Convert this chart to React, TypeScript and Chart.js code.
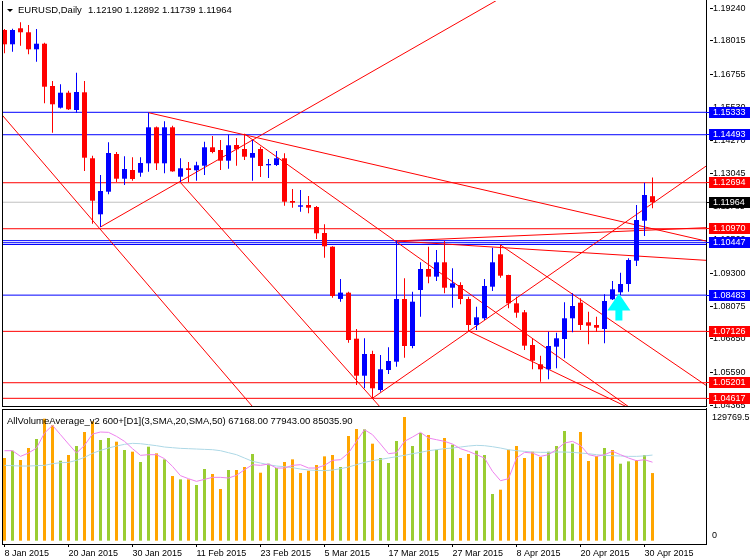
import { useEffect, useRef } from "react";
import { Chart, registerables } from "chart.js";

Chart.register(...registerables);

const FONT = "'Liberation Sans', Arial, sans-serif";

// ---------- price data (daily EURUSD, 8 Jan 2015 .. 1 May 2015) ----------
const opens = [
  1.18417, 1.17881, 1.18481, 1.18331, 1.17693, 1.17903, 1.16318, 1.15505, 1.16067, 1.15419,
  1.16082, 1.13610, 1.11511, 1.12358, 1.13771, 1.12845, 1.13171, 1.13070, 1.13422, 1.14771,
  1.13422, 1.14771, 1.12920, 1.13235, 1.13160, 1.13332, 1.14022, 1.13921, 1.13520, 1.14108,
  1.13958, 1.13632, 1.13958, 1.13347, 1.13358, 1.13610, 1.12009, 1.11796, 1.11860, 1.11785,
  1.10811, 1.10297, 1.08340, 1.08574, 1.06851, 1.05464, 1.06277, 1.04929, 1.05678, 1.05989,
  1.08338, 1.06577, 1.08675, 1.09462, 1.09175, 1.09713, 1.08761, 1.08862, 1.08338, 1.07364,
  1.07615, 1.08799, 1.10013, 1.09237, 1.08177, 1.07840, 1.06615, 1.05891, 1.05704, 1.06551,
  1.06840, 1.07615, 1.08200, 1.07465, 1.07364, 1.07214, 1.08327, 1.08589, 1.08900, 1.09773,
  1.11272, 1.12190,
];
const highs = [
  1.18454, 1.18467, 1.18705, 1.18604, 1.18454, 1.17941, 1.16506, 1.16382, 1.16142, 1.16817,
  1.16506, 1.13707, 1.12984, 1.14209, 1.13846, 1.13685, 1.13647, 1.13647, 1.15318, 1.14800,
  1.14996, 1.14831, 1.13610, 1.13471, 1.13482, 1.14231, 1.14445, 1.14295, 1.14494, 1.14370,
  1.14520, 1.14295, 1.14040, 1.13583, 1.13883, 1.13797, 1.12459, 1.12422, 1.12197, 1.11823,
  1.11137, 1.10310, 1.09090, 1.08612, 1.07214, 1.06866, 1.06401, 1.06240, 1.06528, 1.10511,
  1.09113, 1.08612, 1.09713, 1.10297, 1.10174, 1.10511, 1.09488, 1.08964, 1.08424, 1.08049,
  1.09087, 1.10260, 1.10361, 1.09250, 1.08424, 1.07926, 1.06866, 1.06214, 1.07113, 1.07076,
  1.08214, 1.08551, 1.08364, 1.07862, 1.07675, 1.08514, 1.09012, 1.09324, 1.09863, 1.11860,
  1.12695, 1.12892,
];
const lows = [
  1.17543, 1.17603, 1.17829, 1.17506, 1.17229, 1.15670, 1.14569, 1.15480, 1.15419, 1.15318,
  1.13134, 1.11159, 1.11036, 1.12261, 1.12722, 1.12609, 1.12771, 1.12920, 1.13107, 1.13171,
  1.13047, 1.13107, 1.12722, 1.12722, 1.12771, 1.12984, 1.13797, 1.13171, 1.13220, 1.13332,
  1.13546, 1.12771, 1.12908, 1.12872, 1.13321, 1.11834, 1.11759, 1.11609, 1.11549, 1.10586,
  1.09885, 1.08387, 1.08234, 1.06701, 1.05116, 1.04992, 1.04620, 1.04865, 1.05528, 1.05802,
  1.06139, 1.06491, 1.07675, 1.08926, 1.09012, 1.08551, 1.08012, 1.08139, 1.07139, 1.07177,
  1.07551, 1.08638, 1.09136, 1.07990, 1.07637, 1.06427, 1.05704, 1.05240, 1.05330, 1.05741,
  1.06117, 1.07090, 1.07177, 1.06641, 1.07113, 1.06679, 1.08300, 1.08490, 1.08612, 1.09574,
  1.10698, 1.11739,
];
const closes = [
  1.17881, 1.18417, 1.18331, 1.17693, 1.17903, 1.16292, 1.15633, 1.16067, 1.15445, 1.16094,
  1.13632, 1.12021, 1.12384, 1.13808, 1.12845, 1.13209, 1.12834, 1.13433, 1.14771, 1.13422,
  1.14771, 1.13120, 1.13235, 1.13171, 1.13347, 1.14022, 1.13846, 1.13520, 1.14097, 1.13947,
  1.13669, 1.13808, 1.13321, 1.13396, 1.13610, 1.11983, 1.11946, 1.11848, 1.11759, 1.10800,
  1.10313, 1.08451, 1.08577, 1.06802, 1.05464, 1.06277, 1.04992, 1.05704, 1.06015, 1.08338,
  1.06577, 1.08237, 1.09462, 1.09175, 1.09713, 1.08761, 1.08926, 1.08338, 1.07364, 1.07652,
  1.08825, 1.09713, 1.09211, 1.08177, 1.07825, 1.06589, 1.06026, 1.05704, 1.06577, 1.06866,
  1.07615, 1.08076, 1.07364, 1.07338, 1.07263, 1.08263, 1.08701, 1.08900, 1.09799, 1.11298,
  1.12234, 1.11964,
];

// ---------- volume sub-window ----------
const volumes = [
  82090, 89370, 80100, 92020, 100960, 121150, 114530, 79440, 85070, 94000,
  107910, 118500, 99960, 101950, 98310, 90030, 88380, 78120, 93340, 86720,
  80760, 64210, 60900, 60900, 55280, 71170, 66200, 51310, 70170, 70170,
  73150, 86060, 67520, 76460, 72160, 78120, 80760, 67190, 69510, 75140,
  83740, 85070, 73150, 103930, 110890, 110550, 96320, 82090, 77120, 98970,
  122800, 94000, 106910, 104930, 90360, 101950, 95330, 82090, 86060, 89370,
  85070, 46340, 50640, 90360, 94000, 82090, 88380, 83080, 88380, 94000,
  108900, 96320, 107910, 79110, 84070, 92020, 90030, 76460, 78780, 80100,
  85070, 67168,
];
// O = orange bar, G = green bar
const volumeKinds = "OGOOGOOGOGOOGGOGOGGOGOGOGGOOGOOGOGGOOOOOOOGOOGOGGGOGGOGOGOOGGGOOOOOOGGGGOOOGOGGOGO".split("");
const volumeFastAvg = [
  89370, 89370, 83740, 87050, 92020, 106910, 114530, 105260, 95990, 87050,
  94670, 105920, 107910, 107580, 103600, 98640, 91360, 84740, 85400, 85400,
  81430, 73810, 64550, 61570, 58920, 60900, 62890, 62890, 62230, 64880,
  70500, 75470, 74810, 76130, 72160, 72160, 74810, 75470, 72160, 72160,
  74810, 79770, 80430, 87050, 98640, 110220, 105260, 95990, 86390, 87380,
  98640, 102940, 107580, 101950, 100290, 98640, 95990, 91360, 88710, 85400,
  82090, 68850, 59580, 61570, 82090, 87720, 87050, 83740, 85400, 90360,
  96980, 98640, 94670, 85400, 83740, 85400, 88710, 85400, 82090, 79440,
  80430, 77943,
];
const volumeSlowAvg = [
  74810, 74480, 74140, 74140, 74480, 74810, 76460, 77450, 77780, 79770,
  82750, 86720, 89700, 92020, 94000, 95660, 96650, 96320, 95330, 94340,
  93010, 92350, 91690, 91360, 91030, 90690, 90360, 89370, 87380, 85400,
  82090, 78780, 77120, 75470, 74140, 73480, 72490, 71170, 70170, 69840,
  69510, 70170, 71500, 73150, 75470, 77790, 79440, 80760, 82090, 83410,
  84740, 86390, 87720, 89370, 90360, 91360, 92020, 93010, 94000, 94670,
  94340, 93340, 92020, 90360, 89370, 88710, 88050, 87720, 87720, 88050,
  88050, 87720, 87050, 86390, 85400, 84740, 84410, 84070, 83740, 83740,
  84200, 85036,
];

// ---------- axes / objects ----------
const dateTickIndex = [0, 8, 16, 24, 32, 40, 48, 56, 64, 72, 80];
const dateTickLabels = [
  "8 Jan 2015", "20 Jan 2015", "30 Jan 2015", "11 Feb 2015", "23 Feb 2015", "5 Mar 2015",
  "17 Mar 2015", "27 Mar 2015", "8 Apr 2015", "20 Apr 2015", "30 Apr 2015",
];
const priceTicks = [
  1.1924, 1.18015, 1.16755, 1.1553, 1.1427, 1.13045, 1.11785, 1.1056, 1.093, 1.08075,
  1.0685, 1.0559, 1.04365,
];
const blueLevels = [1.15333, 1.14493, 1.10525, 1.10447, 1.1038, 1.08483];
const redLevels = [1.12694, 1.1097, 1.07126, 1.05201, 1.04617];
const blueLabelLevels = [1.15333, 1.14493, 1.10447, 1.08483];
const redLabelLevels = [1.12694, 1.1097, 1.07126, 1.05201, 1.04617];
const bidPrice = 1.11964;
// trend lines: [start bar, start price, end bar, end price]
const trendLines = [
  [-1, 1.15477, 35, 1.02913],
  [22, 1.127, 50, 1.03264],
  [18, 1.15318, 90, 1.10349],
  [30, 1.1452, 80, 1.0388],
  [12, 1.11036, 62, 1.19609],
  [46, 1.0462, 90, 1.13798],
  [49, 1.10511, 90, 1.1104],
  [49, 1.10511, 90, 1.09743],
  [58, 1.07139, 90, 1.02544],
  [62, 1.10361, 90, 1.0463],
];
const arrowAnchor = [76.8, 1.08548];
const headerSymbol = "EURUSD,Daily";
const headerValues = "1.12190 1.12892 1.11739 1.11964";
const volumeTitle = "AllVolumeAverage_v2 600+[D1](3,SMA,20,SMA,50) 67168.00 77943.00 85035.90";

const X_MIN = -0.3125;
const X_MAX = 87.6875;
const PRICE_MIN = 1.04329;
const PRICE_MAX = 1.19503;
const VOLUME_MIN = -3277;
const VOLUME_MAX = 129769.5;

const BLUE = "#0000ff";
const RED = "#ff0000";
const ORANGE = "#ffa500";
const GREEN = "#9acd32";

function lineDs(points: { x: number; y: number }[], color: string, order: number) {
  return {
    type: "line" as const,
    data: points,
    borderColor: color,
    backgroundColor: color,
    borderWidth: 1,
    pointRadius: 0,
    fill: false,
    tension: 0,
    order,
  };
}

export default function App() {
  const priceRef = useRef<HTMLCanvasElement | null>(null);
  const volRef = useRef<HTMLCanvasElement | null>(null);

  useEffect(() => {
    Chart.defaults.font.family = FONT;
    const idx = opens.map((_, i) => i);
    const candleColors = idx.map((i) => (closes[i] >= opens[i] ? BLUE : RED));

    const level = (p: number, c: string, order: number) =>
      lineDs([{ x: X_MIN - 5, y: p }, { x: X_MAX + 5, y: p }], c, order);

    const datasets: any[] = [
      {
        type: "bar",
        data: idx.map((i) => ({ x: i, y: [lows[i], highs[i]] })),
        backgroundColor: candleColors,
        grouped: false,
        maxBarThickness: 1,
        inflateAmount: 0,
        borderWidth: 0,
        minBarLength: 1,
        order: 1,
      },
      {
        type: "bar",
        data: idx.map((i) => ({ x: i, y: [opens[i], closes[i]] })),
        backgroundColor: candleColors,
        grouped: false,
        maxBarThickness: 5,
        inflateAmount: 0,
        borderWidth: 0,
        minBarLength: 1,
        order: 0,
      },
      level(bidPrice, "#c0c0c0", 4),
      ...blueLevels.map((p) => level(p, BLUE, 3)),
      ...redLevels.map((p) => level(p, RED, 3)),
      ...trendLines.map((t) =>
        lineDs([{ x: t[0], y: t[1] }, { x: t[2], y: t[3] }], RED, 2)
      ),
    ];

    const pricePlugin = {
      id: "priceDecor",
      afterDraw(chart: any) {
        const { ctx, chartArea: a, scales } = chart;
        const xs = scales.x;
        const ys = scales.y;
        ctx.save();
        ctx.fillStyle = "#000";
        const L = Math.round(a.left);
        const R = Math.round(a.right);
        const B = Math.round(a.bottom);
        ctx.fillRect(L, Math.round(a.top), 1, B - Math.round(a.top) + 1);
        ctx.fillRect(R, 0, 1, B + 1);
        ctx.fillRect(L, B, R - L + 1, 1);
        // tick dashes
        priceTicks.forEach((v) => {
          const py = Math.floor(ys.getPixelForValue(v));
          ctx.fillRect(R + 4, py, 3, 1);
        });
        // price label boxes
        const box = (p: number, bg: string) => {
          const py = ys.getPixelForValue(p);
          const top = Math.round(py - 5.5);
          ctx.fillStyle = bg;
          ctx.fillRect(R, Math.floor(py), 3, 1);
          ctx.fillRect(R + 3, top, 750 - R - 3, 11);
          ctx.fillStyle = "#fff";
          ctx.font = `9px ${FONT}`;
          ctx.textBaseline = "middle";
          ctx.textAlign = "left";
          ctx.fillText(p.toFixed(5), R + 7, top + 6);
        };
        redLabelLevels.forEach((p) => box(p, RED));
        blueLabelLevels.forEach((p) => box(p, BLUE));
        box(bidPrice, "#000");
        // arrow
        const ax = xs.getPixelForValue(arrowAnchor[0]);
        const ay = ys.getPixelForValue(arrowAnchor[1]);
        ctx.fillStyle = "#00ffff";
        ctx.beginPath();
        ctx.moveTo(ax, ay);
        ctx.lineTo(ax + 11.5, ay + 17);
        ctx.lineTo(ax + 3.5, ay + 17);
        ctx.lineTo(ax + 3.5, ay + 27);
        ctx.lineTo(ax - 3.5, ay + 27);
        ctx.lineTo(ax - 3.5, ay + 17);
        ctx.lineTo(ax - 11.5, ay + 17);
        ctx.closePath();
        ctx.fill();
        // header
        ctx.fillStyle = "#000";
        ctx.beginPath();
        ctx.moveTo(a.left + 5, a.top + 8);
        ctx.lineTo(a.left + 11, a.top + 8);
        ctx.lineTo(a.left + 8, a.top + 11);
        ctx.closePath();
        ctx.fill();
        ctx.font = `9.5px ${FONT}`;
        ctx.textBaseline = "middle";
        ctx.textAlign = "left";
        ctx.fillText(headerSymbol, a.left + 16, a.top + 9.5);
        ctx.fillText(headerValues, a.left + 86, a.top + 9.5);
        ctx.restore();
      },
    };

    const price = new Chart(priceRef.current as HTMLCanvasElement, {
      type: "bar",
      data: { datasets },
      options: {
        responsive: false,
        animation: false,
        devicePixelRatio: 1,
        events: [],
        layout: { padding: { left: 2, top: 1, right: 0, bottom: 2 } },
        plugins: { legend: { display: false }, tooltip: { enabled: false } },
        scales: {
          x: {
            type: "linear",
            min: X_MIN,
            max: X_MAX,
            offset: false,
            display: false,
            grid: { offset: false },
          },
          y: {
            type: "linear",
            position: "right",
            min: PRICE_MIN,
            max: PRICE_MAX,
            beginAtZero: false,
            afterBuildTicks: (s: any) => {
              s.ticks = priceTicks.map((v) => ({ value: v }));
            },
            afterFit: (s: any) => {
              s.width = 44;
              s.paddingTop = 0;
              s.paddingBottom = 0;
            },
            grid: { display: false, drawTicks: false },
            border: { display: false },
            ticks: {
              padding: 7,
              autoSkip: false,
              color: "#000",
              font: { size: 9, family: FONT },
              callback: (v: any) => Number(v).toFixed(5),
            },
          },
        },
      } as any,
      plugins: [pricePlugin],
    });

    const volPlugin = {
      id: "volDecor",
      afterDraw(chart: any) {
        const { ctx, chartArea: a, scales } = chart;
        const ys = scales.y;
        ctx.save();
        ctx.fillStyle = "#000";
        const L = Math.round(a.left);
        const R = Math.round(a.right);
        const T = Math.round(a.top) - 1;
        const B = Math.round(a.bottom);
        ctx.fillRect(L, T, R - L + 1, 1);
        ctx.fillRect(L, T, 1, B - T + 1);
        ctx.fillRect(R, 0, 1, B - 0 + 1);
        ctx.fillRect(L, B, R - L + 1, 1);
        ctx.font = `9px ${FONT}`;
        ctx.textBaseline = "middle";
        ctx.textAlign = "left";
        ctx.fillText(String(VOLUME_MAX), R + 6, ys.getPixelForValue(VOLUME_MAX) + 8);
        ctx.fillText("0", R + 6, ys.getPixelForValue(0) - 5.5);
        ctx.font = `9.5px ${FONT}`;
        ctx.fillText(volumeTitle, a.left + 5, a.top + 11);
        ctx.restore();
      },
    };

    const vol = new Chart(volRef.current as HTMLCanvasElement, {
      type: "bar",
      data: {
        datasets: [
          lineDs(idx.map((i) => ({ x: i, y: volumeFastAvg[i] })), "#ee82ee", 0),
          lineDs(idx.map((i) => ({ x: i, y: volumeSlowAvg[i] })), "#add8e6", 0),
          {
            type: "bar",
            data: idx.map((i) => ({ x: i, y: volumes[i] })),
            backgroundColor: volumeKinds.map((k) => (k === "O" ? ORANGE : GREEN)),
            grouped: false,
            maxBarThickness: 3,
            inflateAmount: 0,
            borderWidth: 0,
            order: 2,
          },
        ] as any,
      },
      options: {
        responsive: false,
        animation: false,
        devicePixelRatio: 1,
        events: [],
        layout: { padding: { left: 2, top: 2, right: 0, bottom: 0 } },
        plugins: { legend: { display: false }, tooltip: { enabled: false } },
        scales: {
          x: {
            type: "linear",
            min: X_MIN,
            max: X_MAX,
            offset: false,
            afterBuildTicks: (s: any) => {
              s.ticks = dateTickIndex.map((v) => ({ value: v }));
            },
            afterFit: (s: any) => {
              s.height = 16;
              s.paddingLeft = 0;
              s.paddingRight = 0;
            },
            grid: {
              offset: false,
              drawOnChartArea: false,
              drawTicks: true,
              tickLength: 3,
              color: "#000",
            },
            border: { display: false },
            ticks: {
              align: "start",
              padding: 1,
              maxRotation: 0,
              autoSkip: false,
              color: "#000",
              font: { size: 9, family: FONT },
              callback: (v: any) => {
                const k = dateTickIndex.indexOf(Number(v));
                return k >= 0 ? dateTickLabels[k] : "";
              },
            },
          },
          y: {
            type: "linear",
            position: "right",
            min: VOLUME_MIN,
            max: VOLUME_MAX,
            beginAtZero: false,
            afterFit: (s: any) => {
              s.width = 44;
              s.paddingTop = 0;
              s.paddingBottom = 0;
            },
            grid: { display: false, drawTicks: false },
            border: { display: false },
            ticks: { display: false },
          },
        },
      } as any,
      plugins: [volPlugin],
    });

    return () => {
      price.destroy();
      vol.destroy();
    };
  }, []);

  return (
    <div
      style={{
        position: "absolute",
        left: 0,
        top: 0,
        width: 750,
        height: 560,
        background: "#fff",
        overflow: "hidden",
      }}
    >
      <canvas
        ref={priceRef}
        width={750}
        height={408}
        style={{ position: "absolute", left: 0, top: 0, width: 750, height: 408 }}
      />
      <canvas
        ref={volRef}
        width={750}
        height={152}
        style={{ position: "absolute", left: 0, top: 408, width: 750, height: 152 }}
      />
    </div>
  );
}
